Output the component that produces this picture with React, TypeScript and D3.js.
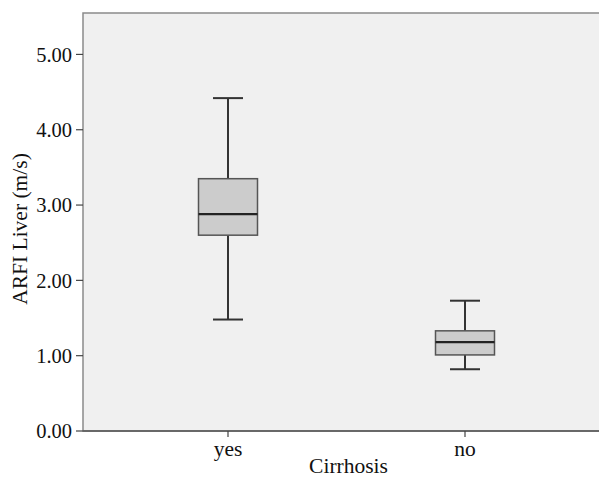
import React from 'react';
import * as d3 from 'd3';

const categories = ['yes', 'no'];
const whiskerLow = [1.48, 0.82];
const q1 = [2.6, 1.01];
const median = [2.88, 1.18];
const q3 = [3.35, 1.33];
const whiskerHigh = [4.42, 1.73];
const yTicks = [0, 1, 2, 3, 4, 5];

const width = 599;
const height = 477;
const margin = { top: 13, left: 83, bottom: 46 };

const App: React.FC = () => {
  const plotBottom = height - margin.bottom;
  const y = d3.scaleLinear().domain([0, 5.55]).range([plotBottom, margin.top]);
  const x = d3
    .scalePoint<string>()
    .domain(categories)
    .range([margin.left + 145, margin.left + 382]);

  const boxW = 59;
  const capW = 30;
  const font = '"Liberation Serif", "Times New Roman", serif';

  return (
    <div style={{ position: 'fixed', left: 0, top: 0 }}>
      <svg width={width} height={height} style={{ display: 'block', background: '#fff' }}>
        {/* plot frame */}
        <rect
          x={margin.left}
          y={margin.top}
          width={width - margin.left + 10}
          height={plotBottom - margin.top}
          fill="#f0f0f0"
          stroke="#8a8a8a"
          strokeWidth={1.5}
        />

        {/* y axis */}
        {yTicks.map((t) => (
          <g key={t}>
            <line x1={margin.left - 7} x2={margin.left} y1={y(t)} y2={y(t)} stroke="#444" strokeWidth={1.2} />
            <text
              x={margin.left - 11}
              y={y(t)}
              dy="0.35em"
              textAnchor="end"
              fontFamily={font}
              fontSize={20.5}
              fill="#111"
            >
              {t.toFixed(2)}
            </text>
          </g>
        ))}
        <text
          transform={`translate(27,${(margin.top + plotBottom) / 2 + 7}) rotate(-90)`}
          textAnchor="middle"
          fontFamily={font}
          fontSize={21.5}
          fill="#111"
        >
          ARFI Liver (m/s)
        </text>

        {/* x axis */}
        <line x1={margin.left} x2={width} y1={plotBottom} y2={plotBottom} stroke="#555" strokeWidth={1.5} />
        {categories.map((c) => (
          <g key={c}>
            <line x1={x(c)} x2={x(c)} y1={plotBottom} y2={plotBottom + 6} stroke="#444" strokeWidth={1.2} />
            <text x={x(c)} y={plotBottom + 25} textAnchor="middle" fontFamily={font} fontSize={21.5} fill="#111">
              {c}
            </text>
          </g>
        ))}
        <text
          x={(x('yes')! + x('no')!) / 2 + 2}
          y={plotBottom + 42}
          textAnchor="middle"
          fontFamily={font}
          fontSize={21.5}
          fill="#111"
        >
          Cirrhosis
        </text>

        {/* boxes */}
        {categories.map((c, i) => {
          const cx = x(c)!;
          return (
            <g key={c}>
              <line x1={cx} x2={cx} y1={y(whiskerHigh[i])} y2={y(q3[i])} stroke="#333" strokeWidth={2} />
              <line x1={cx} x2={cx} y1={y(q1[i])} y2={y(whiskerLow[i])} stroke="#333" strokeWidth={2} />
              <line x1={cx - capW / 2} x2={cx + capW / 2} y1={y(whiskerHigh[i])} y2={y(whiskerHigh[i])} stroke="#333" strokeWidth={2} />
              <line x1={cx - capW / 2} x2={cx + capW / 2} y1={y(whiskerLow[i])} y2={y(whiskerLow[i])} stroke="#333" strokeWidth={2} />
              <rect
                x={cx - boxW / 2}
                y={y(q3[i])}
                width={boxW}
                height={y(q1[i]) - y(q3[i])}
                fill="#cccccc"
                stroke="#555"
                strokeWidth={1.5}
              />
              <line x1={cx - boxW / 2} x2={cx + boxW / 2} y1={y(median[i])} y2={y(median[i])} stroke="#222" strokeWidth={2.2} />
            </g>
          );
        })}
      </svg>
    </div>
  );
};

export default App;
